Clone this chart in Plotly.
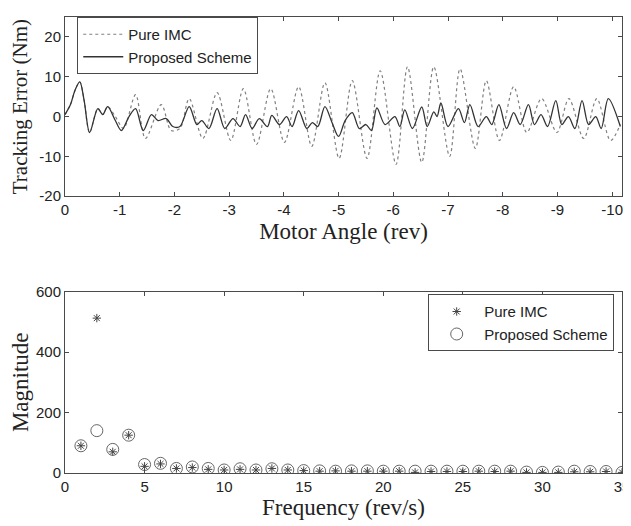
import plotly.graph_objects as go

# ---- Top panel: tracking error vs motor angle (key points) ----
imc_angle = [0, -0.1, -0.18, -0.27, -0.35, -0.45, -0.6, -0.69, -0.78, -0.92, -1.07, -1.29, -1.47,
             -1.76, -1.94, -2.1, -2.27, -2.52, -2.78, -3.03, -3.26, -3.5, -3.76, -4.01, -4.27, -4.51,
             -4.75, -5.01, -5.25, -5.52, -5.76, -6.05, -6.26, -6.52, -6.74, -7.03, -7.22, -7.5, -7.7,
             -7.94, -8.2, -8.44, -8.71, -8.99, -9.21, -9.48, -9.72, -9.97, -10.15]
imc_error = [0.5, 3, 6.5, 8.7, 4, -4, 2, 0.5, 2.5, 0, -3, 5.5, -5.5,
             3, -3.5, -3, 4.5, -5.5, 6, -6, 7, -7, 7, -6.5, 7.5, -7.5,
             8.5, -10.5, 9, -10.5, 11.5, -12, 12.5, -11.5, 12.5, -10, 12, -8, 9,
             -6, 7.5, -4, 4.5, -4, 4.5, -5.5, 4.5, -6, -2]

prop_angle = [0, -0.1, -0.18, -0.27, -0.35, -0.45, -0.6, -0.69, -0.78, -0.92, -1.03, -1.17, -1.29,
              -1.43, -1.58, -1.7, -1.85, -1.97, -2.1, -2.27, -2.41, -2.5, -2.63, -2.78, -2.92, -3.07,
              -3.2, -3.3, -3.42, -3.55, -3.7, -3.78, -3.92, -4.05, -4.15, -4.27, -4.42, -4.52, -4.62,
              -4.75, -4.88, -5.0, -5.12, -5.25, -5.38, -5.5, -5.6, -5.7, -5.85, -6.03, -6.12, -6.21,
              -6.35, -6.52, -6.62, -6.74, -6.8, -6.87, -7.0, -7.19, -7.3, -7.4, -7.55, -7.7, -7.8,
              -7.93, -8.07, -8.2, -8.32, -8.47, -8.58, -8.7, -8.82, -8.97, -9.08, -9.2, -9.32, -9.45,
              -9.57, -9.7, -9.8, -9.93, -10.15]
prop_error = [0.5, 3, 6.5, 8.7, 4, -4, 2, 0.5, 2.5, -1, -3.5, 0, 2,
              -3.5, 0.5, -1, -0.5, -2.5, -2.5, 2.5, -2, -1, -3, 2, -3, -0.5,
              -2.5, 0.5, -3, -0.5, -2.5, 0.3, -2, 0, -2.5, 1.5, -3, -1.5, -2.5,
              2.5, -1.5, -5, -1, 1, -3, -2, -3.5, 2.2, -2, 0, -2.5, 1.7,
              -3, 2.4, -2.5, 1.2, 0, 3.4, -2.5, 2, -1.5, 3, -2.5, 0, -2,
              3, -3, 1, -2, 3, -2, 0.5, -2.5, 4, -2, 0, -3, 4,
              -2, 0, -3, 4.5, -2.5]

angle_ticks = [0, -1, -2, -3, -4, -5, -6, -7, -8, -9, -10]
angle_ticktext = ["0", "-1", "-2", "-3", "-4", "-5", "-6", "-7", "-8", "-9", "-10"]
error_ticks = [-20, -10, 0, 10, 20]
error_ticktext = ["-20", "-10", "0", "10", "20"]

# ---- Bottom panel: harmonic magnitudes ----
freq = list(range(1, 36))
imc_mag = [90, 512, 70, 125, 22, 30, 15, 18, 12, 10, 12, 10, 15, 10, 8, 6, 7, 6, 6, 6,
           6, 2, 5, 5, 5, 6, 5, 6, 2, 2, 2, 4, 4, 5, 2]
prop_mag = [90, 140, 78, 125, 28, 32, 15, 20, 15, 10, 14, 10, 14, 10, 8, 7, 6, 7, 7, 6,
            6, 6, 6, 6, 6, 6, 6, 6, 3, 2, 3, 6, 5, 5, 2]
freq_ticks = [0, 5, 10, 15, 20, 25, 30, 35]
mag_ticks = [0, 200, 400, 600]

AX = "#4a4a4a"
SANS = "Liberation Sans, Arial, sans-serif"
SERIF = "Liberation Serif, Times New Roman, serif"
TXT = "#222222"

fig = go.Figure()
fig.add_trace(go.Scatter(x=imc_angle, y=imc_error, mode="lines", name="Pure IMC",
                         line=dict(color="#808080", width=1.2, dash="dot", shape="spline", smoothing=0.9),
                         xaxis="x", yaxis="y", legend="legend"))
fig.add_trace(go.Scatter(x=prop_angle, y=prop_error, mode="lines", name="Proposed Scheme",
                         line=dict(color="#333333", width=1.3, shape="spline", smoothing=0.9),
                         xaxis="x", yaxis="y", legend="legend"))
fig.add_trace(go.Scatter(x=freq, y=imc_mag, mode="markers", name="Pure IMC",
                         marker=dict(symbol="asterisk-open", size=7, color="#444444",
                                     line=dict(color="#444444", width=1)),
                         xaxis="x2", yaxis="y2", legend="legend2"))
fig.add_trace(go.Scatter(x=freq, y=prop_mag, mode="markers", name="Proposed Scheme",
                         marker=dict(symbol="circle-open", size=12, color="#666666",
                                     line=dict(color="#666666", width=1)),
                         xaxis="x2", yaxis="y2", legend="legend2"))

axis_common = dict(showline=True, linecolor=AX, linewidth=1, mirror="ticks", ticks="inside",
                   ticklen=4, tickcolor=AX, showgrid=False, zeroline=False,
                   tickfont=dict(family=SANS, size=15, color=TXT))
title_font = dict(family=SERIF, size=23, color=TXT)

fig.update_layout(
    width=631, height=526,
    margin=dict(l=57, r=17, t=0, b=61),
    paper_bgcolor="white", plot_bgcolor="white",
    xaxis=dict(domain=[0, 1], anchor="y", range=[0, -10.18],
               tickvals=angle_ticks, ticktext=angle_ticktext,
               title=dict(text="Motor Angle (rev)", font=title_font, standoff=5),
               **axis_common),
    yaxis=dict(domain=[0.607, 1], anchor="x", range=[-20, 25],
               tickvals=error_ticks, ticktext=error_ticktext,
               title=dict(text="Tracking Error (Nm)", font=dict(family=SERIF, size=21, color=TXT),
                          standoff=6),
               **axis_common),
    xaxis2=dict(domain=[0, 1], anchor="y2", range=[0, 35], tickvals=freq_ticks,
                title=dict(text="Frequency (rev/s)", font=title_font, standoff=2),
                **axis_common),
    yaxis2=dict(domain=[0, 0.398], anchor="x2", range=[0, 600], tickvals=mag_ticks,
                title=dict(text="Magnitude", font=title_font, standoff=5),
                **axis_common),
    legend=dict(x=0.022, y=1.0, xanchor="left", yanchor="top", bgcolor="white",
                bordercolor=AX, borderwidth=1, font=dict(family=SANS, size=15, color=TXT),
                tracegroupgap=0, itemwidth=40),
    legend2=dict(x=0.986, y=0.392, xanchor="right", yanchor="top", bgcolor="white",
                 bordercolor=AX, borderwidth=1, font=dict(family=SANS, size=15, color=TXT),
                 tracegroupgap=0, itemwidth=45),
    showlegend=True,
)

fig.write_html("out.html")
